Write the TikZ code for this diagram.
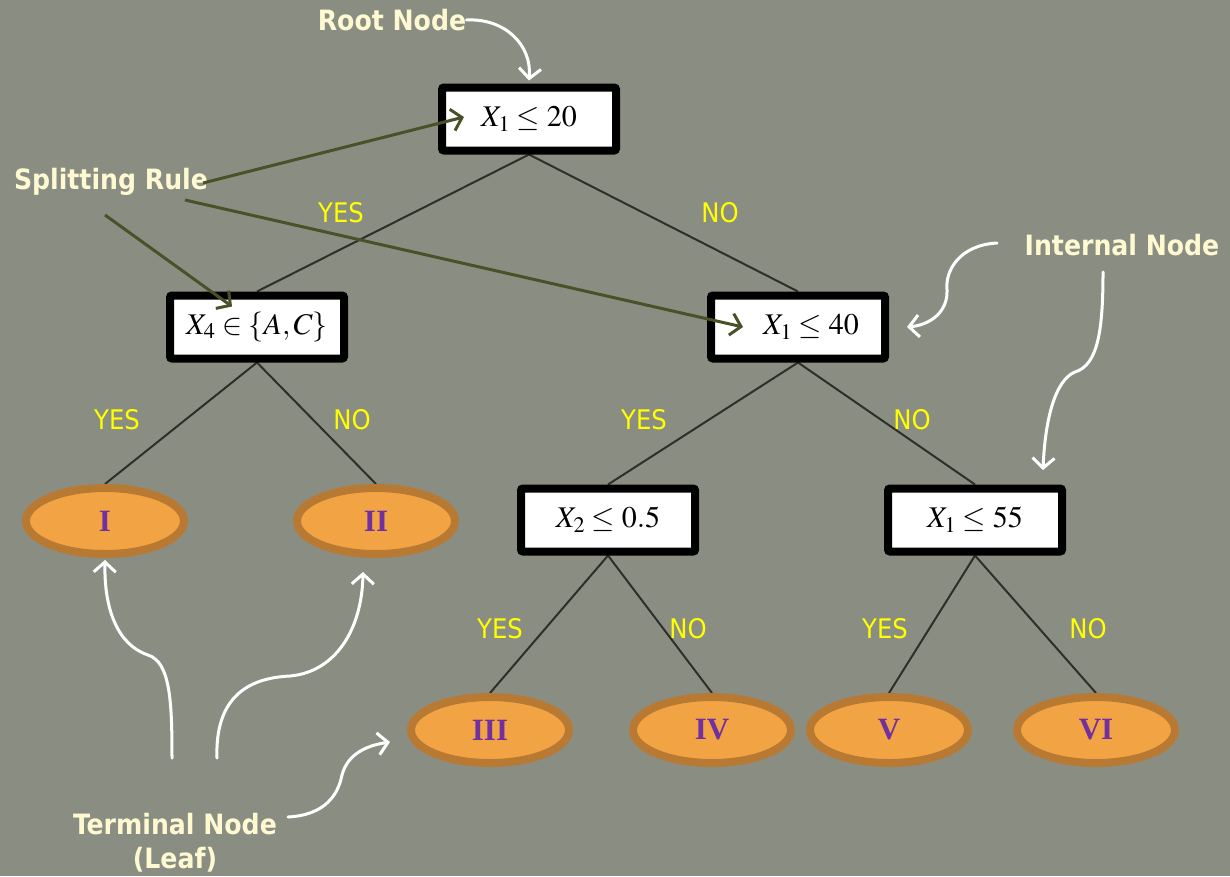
\documentclass[tikz,border=0pt]{standalone}
\usepackage{mathptmx}
\usepackage[no-math]{fontspec}
\usetikzlibrary{shapes.geometric,arrows.meta}
\newfontfamily\annfont{DejaVu Sans Condensed}
\newfontfamily\romfont{Liberation Serif}

\definecolor{bgcol}{HTML}{8A8E82}
\definecolor{edgecol}{HTML}{2E2F2B}
\definecolor{leaffill}{HTML}{F2A444}
\definecolor{leafedge}{HTML}{B87A33}
\definecolor{leaftext}{HTML}{7030A0}
\definecolor{yesno}{HTML}{FFFF00}
\definecolor{cream}{HTML}{FFF9D2}
\definecolor{rulecol}{HTML}{4A5128}

\pgfdeclarelayer{under}
\pgfsetlayers{under,main}

\tikzset{
  splitbox/.style={draw=black, line width=8pt, fill=white, rounded corners=2pt,
    minimum width=174pt, minimum height=63pt, inner sep=0pt,
    font=\fontsize{30}{36}\selectfont},
  leaf/.style={ellipse, draw=leafedge, line width=8pt, fill=leaffill,
    minimum width=158pt, minimum height=66pt, inner sep=0pt,
    text=leaftext, font=\romfont\bfseries\fontsize{31}{33}\selectfont},
  branch/.style={draw=edgecol, line width=2pt},
  answer/.style={text=yesno, inner sep=0pt, font=\annfont\fontsize{27}{30}\selectfont},
  callout/.style={text=cream, inner sep=0pt, align=center,
    font=\annfont\bfseries\fontsize{28}{34}\selectfont},
  pointer/.style={draw=white, line width=3pt, line cap=round,
    -{Straight Barb[length=10pt,width=22pt]}},
  rulearrow/.style={draw=rulecol, line width=3pt,
    -{Straight Barb[length=10pt,width=22pt]}}
}

\begin{document}
\begin{tikzpicture}[x=1pt,y=-1pt]
  % canvas
  \begin{pgfonlayer}{under}
    \fill[bgcol] (0,0) rectangle (1230,876);
  \end{pgfonlayer}
  \useasboundingbox (0,0) rectangle (1230,876);

  % decision nodes
  \node[splitbox] (root) at (529,119) {$X_1 \le 20$};
  \node[splitbox] (x4)   at (257,327) {$X_4 \in \{A,C\}$};
  \node[splitbox] (x40)  at (798,327) {\hspace*{26pt}$X_1 \le 40$};
  \node[splitbox] (x2)   at (608,520) {$X_2 \le 0.5$};
  \node[splitbox] (x55)  at (975,520) {$X_1 \le 55$};

  % terminal nodes
  \node[leaf] (l1) at (105,521) {I};
  \node[leaf] (l2) at (376,521) {II};
  \node[leaf] (l3) at (490,730) {III};
  \node[leaf] (l4) at (712,730) {IV};
  \node[leaf] (l5) at (889,730) {V};
  \node[leaf] (l6) at (1096,730) {VI};

  % branches, kept beneath the nodes
  \begin{pgfonlayer}{under}
    \draw[branch] (root.south) -- (x4.north);
    \draw[branch] (root.south) -- (x40.north);
    \draw[branch] (x4.south) -- (l1.north);
    \draw[branch] (x4.south) -- (l2.north);
    \draw[branch] (x40.south) -- (x2.north);
    \draw[branch] (x40.south) -- (x55.north);
    \draw[branch] (x2.south) -- (l3.north);
    \draw[branch] (x2.south) -- (l4.north);
    \draw[branch] (x55.south) -- (l5.north);
    \draw[branch] (x55.south) -- (l6.north);
  \end{pgfonlayer}

  % branch answers
  \node[answer] (a1)  at (341,213) {YES};
  \node[answer] (a2)  at (720,213) {NO};
  \node[answer] (a3)  at (117,420) {YES};
  \node[answer] (a4)  at (352,420) {NO};
  \node[answer] (a5)  at (644,420) {YES};
  \node[answer] (a6)  at (912,420) {NO};
  \node[answer] (a7)  at (500,629) {YES};
  \node[answer] (a8)  at (688,629) {NO};
  \node[answer] (a9)  at (885,629) {YES};
  \node[answer] (a10) at (1088,629) {NO};

  % callouts
  \node[callout] (rootlbl)  at (392,20)  {Root Node};
  \node[callout] (splitlbl) at (111,182) {Splitting Rule};
  \node[callout] (intlbl)   at (1122,245) {Internal Node};
  \node[callout] (termlbl)  at (175,843) {Terminal Node\\(Leaf)};

  % callout anchors
  \coordinate (s1) at (203,183);
  \coordinate (s2) at (185,200);
  \coordinate (s3) at (105,215);
  \coordinate (i1) at (997,243);
  \coordinate (i2) at (1103,272);
  \coordinate (i2end) at (1043,470);
  \coordinate (t1) at (172,758);
  \coordinate (t2) at (217,758);
  \coordinate (t3) at (288,817);

  % splitting rule pointers
  \draw[rulearrow] (s1) -- ([xshift=26pt,yshift=2pt]root.west);
  \draw[rulearrow] (s2) -- ([xshift=36pt]x40.west);
  \draw[rulearrow] (s3) -- ([xshift=-25pt,yshift=-15pt]x4.north);

  % white callout arrows
  \draw[pointer] (rootlbl.east) .. controls (505,18) and (532,45) .. ([yshift=3pt]root.north);
  \draw[pointer] (i1) .. controls (960,245) and (945,270) .. (947,290)
                      .. controls (948,312) and (930,325) .. ([xshift=18pt]x40.east);
  \draw[pointer] (i2) .. controls (1103,330) and (1098,365) .. (1075,372)
                      .. controls (1055,380) and (1045,420) .. (i2end);
  \draw[pointer] (t1) .. controls (172,700) and (170,662) .. (148,655)
                      .. controls (118,645) and (104,610) .. ([yshift=-2pt]l1.south);
  \draw[pointer] (t2) .. controls (215,700) and (245,678) .. (290,676)
                      .. controls (335,672) and (362,630) .. ([xshift=-13pt,yshift=-14pt]l2.south);
  \draw[pointer] (t3) .. controls (325,815) and (338,795) .. (342,775)
                      .. controls (348,752) and (370,745) .. ([xshift=-17pt,yshift=-12pt]l3.west);
\end{tikzpicture}
\end{document}
